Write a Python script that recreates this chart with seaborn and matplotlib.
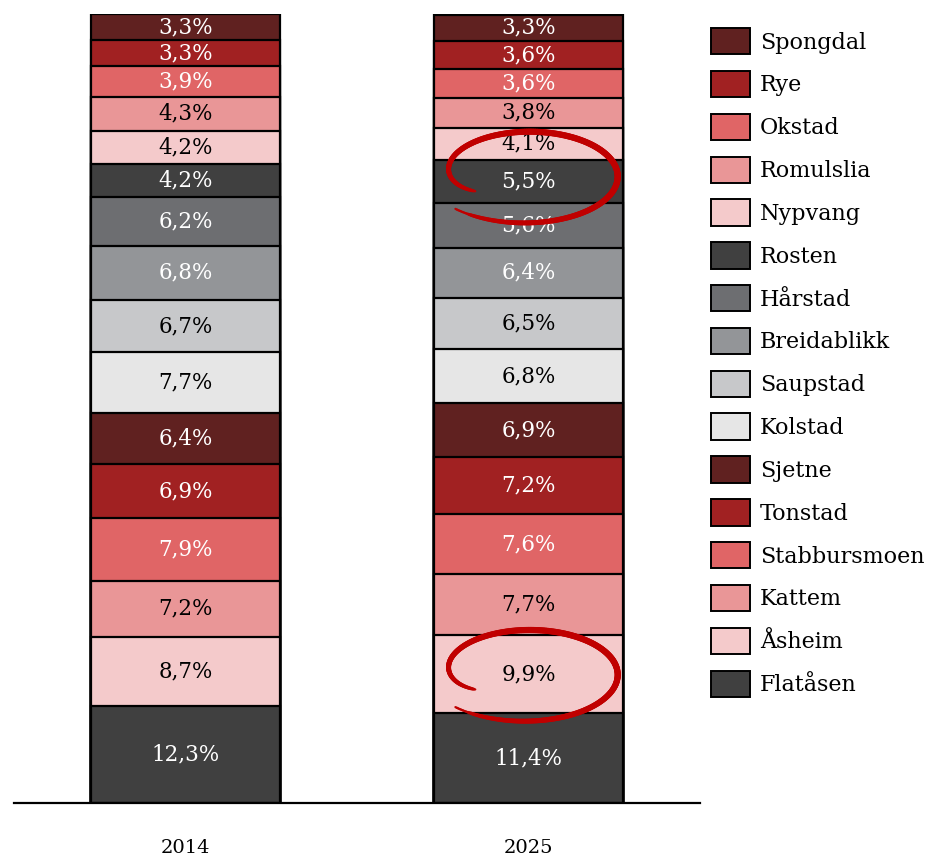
import numpy as np
import pandas as pd
import matplotlib
matplotlib.use("Agg")
import matplotlib.pyplot as plt
from matplotlib.patches import Patch
from matplotlib.collections import LineCollection
import seaborn as sns

# Share of residents per district (percent), listed from bottom of stack to top
districts = ["Flatåsen", "Åsheim", "Kattem", "Stabbursmoen", "Tonstad", "Sjetne",
             "Kolstad", "Saupstad", "Breidablikk", "Hårstad", "Rosten", "Nypvang",
             "Romulslia", "Okstad", "Rye", "Spongdal"]
years = ["2014", "2025"]
share_2014 = [12.3, 8.7, 7.2, 7.9, 6.9, 6.4, 7.7, 6.7, 6.8, 6.2, 4.2, 4.2, 4.3, 3.9, 3.3, 3.3]
share_2025 = [11.4, 9.9, 7.7, 7.6, 7.2, 6.9, 6.8, 6.5, 6.4, 5.6, 5.5, 4.1, 3.8, 3.6, 3.6, 3.3]

fill_colors = ["#404040", "#f4cacb", "#e99697", "#e06566", "#a12122", "#602120",
               "#e6e6e6", "#c7c8ca", "#939598", "#6d6e71", "#404040", "#f4cacb",
               "#e99697", "#e06566", "#a12122", "#602120"]
label_colors = ["white", "black", "black", "white", "white", "white",
                "black", "black", "white", "white", "white", "black",
                "black", "white", "white", "white"]

# Segments highlighted with a hand-drawn loop in 2025
highlighted = [("Rosten", 0.75), ("Åsheim", 0.0)]

sns.set_theme(style="white")
plt.rcParams["font.family"] = ["DejaVu Serif"]
plt.rcParams["text.color"] = "black"

fig = plt.figure(figsize=(9.34, 8.6), dpi=100)
ax = fig.add_axes([14 / 934, 57 / 860, 686 / 934, 789 / 860])

df = pd.DataFrame({"year": np.repeat(years, len(districts)),
                   "district": districts * 2,
                   "share": share_2014 + share_2025})
df["top"] = df.groupby("year")["share"].cumsum()
df["bottom"] = df["top"] - df["share"]

bar_width = 0.553
# Stack by overdrawing cumulative totals, tallest first
for i in range(len(districts) - 1, -1, -1):
    sub = df[df["district"] == districts[i]]
    sns.barplot(data=sub, x="year", y="top", order=years, color=fill_colors[i],
                saturation=1, width=bar_width, edgecolor="black", linewidth=1.6,
                ax=ax, errorbar=None)

for _, row in df.iterrows():
    xi = years.index(row["year"])
    di = districts.index(row["district"])
    ax.text(xi, (row["top"] + row["bottom"]) / 2,
            f"{row['share']:.1f}".replace(".", ",") + "%",
            ha="center", va="center", fontsize=15.5, color=label_colors[di])

# Hand-drawn loops around selected 2025 values
def loop(cx, cy, a, b):
    t = np.linspace(0, 1, 300)
    theta = np.deg2rad(210 - 348 * t)
    r = 1.0 - 0.3 * np.exp(-t * 12) + 0.12 * t ** 4
    xs = cx + a * r * np.cos(theta)
    ys = cy + b * r * np.sin(theta)
    pts = np.column_stack([xs, ys]).reshape(-1, 1, 2)
    segs = np.concatenate([pts[:-1], pts[1:]], axis=1)
    widths = 1.6 + 2.9 * np.sin(np.pi * np.clip(t[:-1] * 1.03, 0, 1)) ** 0.35
    return LineCollection(segs, linewidths=widths, colors="#c00000",
                          capstyle="round", zorder=5)

for name, offset in highlighted:
    seg = df[(df["year"] == "2025") & (df["district"] == name)].iloc[0]
    cy = (seg["top"] + seg["bottom"]) / 2 + offset
    ax.add_collection(loop(1.0, cy, 0.256, 5.6))

ax.set_xlim(-0.5, 1.5)
ax.set_ylim(0, 100)
ax.set_xlabel("")
ax.set_ylabel("")
ax.set_yticks([])
for side in ["top", "left", "right"]:
    ax.spines[side].set_visible(False)
ax.spines["bottom"].set_color("black")
ax.spines["bottom"].set_linewidth(1.6)
ax.tick_params(axis="x", length=0, pad=26, labelsize=14, colors="black")

handles = [Patch(facecolor=fill_colors[i], edgecolor="black", linewidth=1.4)
           for i in range(len(districts) - 1, -1, -1)]
labels = districts[::-1]
leg = fig.legend(handles, labels, loc="upper left",
                 bbox_to_anchor=(711 / 934, 1 - 28 / 860),
                 frameon=False, fontsize=16, handlelength=1.75, handleheight=1.45,
                 labelspacing=0.74, handletextpad=0.45, borderpad=0, borderaxespad=0)
for txt in leg.get_texts():
    txt.set_color("black")

fig.savefig("out.png", dpi=100)
